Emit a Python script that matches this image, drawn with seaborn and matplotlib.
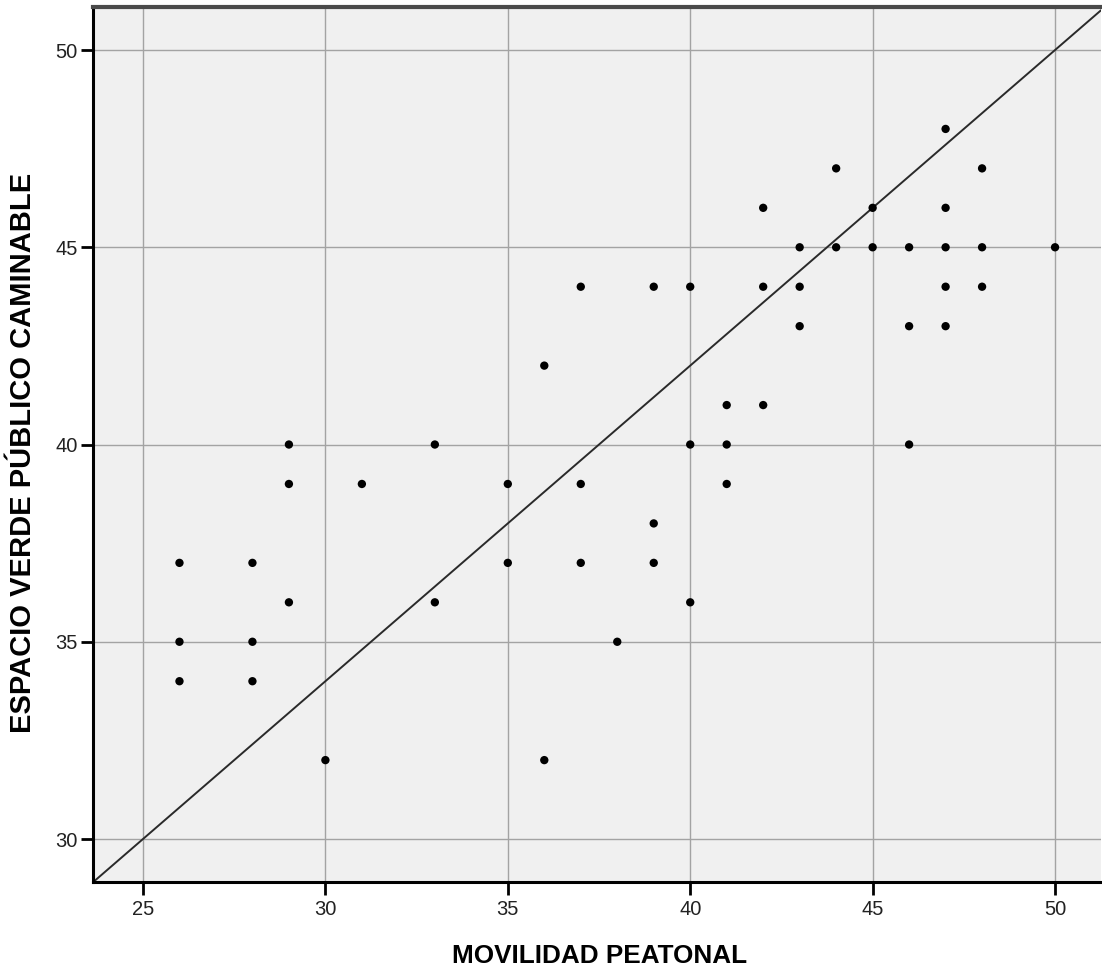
import matplotlib
matplotlib.use("Agg")
import matplotlib.pyplot as plt
from matplotlib import font_manager
import numpy as np
import pandas as pd
import seaborn as sns

# Observations: pedestrian mobility score vs. walkable public green space score
movilidad = [26, 26, 26, 28, 28, 28, 29, 29, 29, 30, 31, 33, 33, 35, 35,
             36, 36, 37, 37, 37, 38, 39, 39, 39, 40, 40, 40, 41, 41, 41,
             42, 42, 42, 43, 43, 43, 44, 44, 45, 45, 46, 46, 46,
             47, 47, 47, 47, 47, 48, 48, 48, 50]
espacio_verde = [37, 35, 34, 37, 35, 34, 40, 39, 36, 32, 39, 40, 36, 39, 37,
                 42, 32, 44, 39, 37, 35, 44, 38, 37, 44, 40, 36, 41, 40, 39,
                 46, 44, 41, 45, 44, 43, 47, 45, 46, 45, 45, 43, 40,
                 48, 46, 45, 44, 43, 47, 45, 44, 45]

# Fitted line: y = intercept + slope * x
fit_intercept = 10.0
fit_slope = 0.8

x_ticks = [25, 30, 35, 40, 45, 50]
y_ticks = [30, 35, 40, 45, 50]
x_label = "MOVILIDAD PEATONAL"
y_label = "ESPACIO VERDE PÚBLICO CAMINABLE"

df = pd.DataFrame({"x": movilidad, "y": espacio_verde})

sns.set_theme(style="white")
plt.rcParams["font.family"] = ["Liberation Sans", "DejaVu Sans"]

# narrow face for the tick numbers when available
installed = {f.name for f in font_manager.fontManager.ttflist}
narrow_candidates = ["Liberation Sans Narrow", "DejaVu Sans Condensed", "Liberation Sans"]
tick_family = next(n for n in narrow_candidates if n in installed or n == "Liberation Sans")
tick_size = 16 if tick_family != "Liberation Sans" else 14.5

fig = plt.figure(figsize=(11.02, 9.76), dpi=100)
ax = fig.add_axes([0.0844, 0.0963, 0.9147, 0.8965])
ax.set_facecolor("#f0f0f0")

xlim = (23.63, 51.26)
ylim = (28.91, 51.09)
ax.set_xlim(*xlim)
ax.set_ylim(*ylim)

ax.set_xticks(x_ticks)
ax.set_yticks(y_ticks)
ax.grid(True, color="#a3a3a3", linewidth=1.0)
ax.set_axisbelow(True)

# regression line across the whole plotting range
xs = np.array(xlim)
ax.plot(xs, fit_intercept + fit_slope * xs, color="#2a2a2a", linewidth=1.4, zorder=2)

sns.scatterplot(data=df, x="x", y="y", ax=ax, color="black", s=36,
                edgecolor="none", linewidth=0, zorder=3)

tick_font = {"family": [tick_family, "DejaVu Sans"], "size": tick_size, "color": "#222222"}
ax.set_xticklabels([str(t) for t in x_ticks], fontdict=tick_font)
ax.set_yticklabels([str(t) for t in y_ticks], fontdict=tick_font)
ax.tick_params(axis="both", which="major", direction="out", length=9, width=2,
               color="black", bottom=True, left=True)
ax.tick_params(axis="x", pad=4)
ax.tick_params(axis="y", pad=2)

ax.set_xlabel(x_label, fontsize=18.8, fontweight="bold", color="black")
ax.set_ylabel(y_label, fontsize=21, fontweight="bold", color="black")
ax.xaxis.set_label_coords(0.503, -0.071)
ax.yaxis.set_label_coords(-0.056, 0.49)

for side in ["left", "bottom"]:
    ax.spines[side].set_color("black")
    ax.spines[side].set_linewidth(2.2)
ax.spines["top"].set_color("#4a4a4a")
ax.spines["top"].set_linewidth(3.0)
ax.spines["right"].set_visible(False)

fig.savefig("out.png", dpi=100)
